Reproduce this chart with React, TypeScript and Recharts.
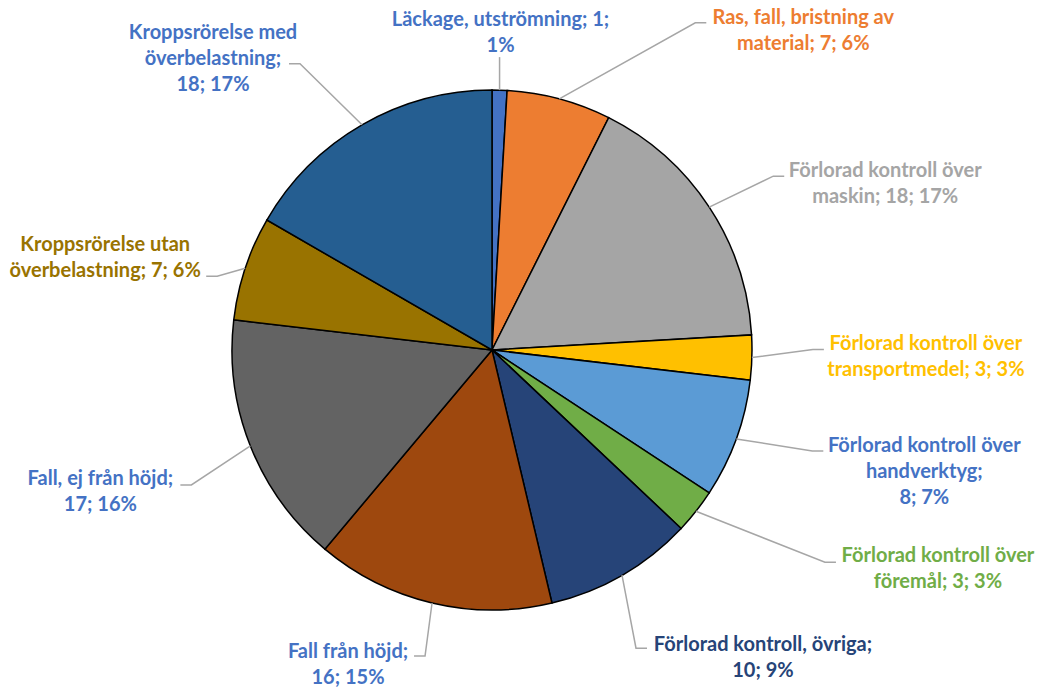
import React from "react";
import { PieChart, Pie, Cell } from "recharts";

const categories = [
  "Läckage, utströmning",
  "Ras, fall, bristning av material",
  "Förlorad kontroll över maskin",
  "Förlorad kontroll över transportmedel",
  "Förlorad kontroll över handverktyg",
  "Förlorad kontroll över föremål",
  "Förlorad kontroll, övriga",
  "Fall från höjd",
  "Fall, ej från höjd",
  "Kroppsrörelse utan överbelastning",
  "Kroppsrörelse med överbelastning",
];

const counts = [1, 7, 18, 3, 8, 3, 10, 16, 17, 7, 18];

const sliceColors = [
  "#4472C4",
  "#ED7D31",
  "#A5A5A5",
  "#FFC000",
  "#5B9BD5",
  "#70AD47",
  "#264478",
  "#9E480E",
  "#636363",
  "#997300",
  "#255E91",
];

const labelColors = [
  "#4472C4",
  "#ED7D31",
  "#A5A5A5",
  "#FFC000",
  "#4472C4",
  "#70AD47",
  "#264478",
  "#4472C4",
  "#4472C4",
  "#997300",
  "#4472C4",
];

// words per line for each data label
const labelWrap = [
  [3, 1],
  [4, 3],
  [3, 3],
  [3, 3],
  [3, 1, 2],
  [3, 3],
  [3, 2],
  [3, 2],
  [4, 2],
  [2, 3],
  [2, 1, 2],
];

// label placement relative to the slice's edge point: [textDx, textDy, elbowDx, elbowDy, side]
const labelLayout = [
  [1, -58, 0, -33, 0],
  [244, -69, 136, -76, 1],
  [176, -24, 64, -31, 1],
  [174, -2, 61, -8, 1],
  [188, 32, 76, 12, 1],
  [242, 57, 129, 51, 1],
  [141, 82, 14, 73, 1],
  [-84, 61, -7, 53, -1],
  [-150, 45, -59, 39, -1],
  [-140, -11, -28, 8, -1],
  [-149, -67, -62, -61, -1],
];

const data = categories.map((name, i) => ({ name, value: counts[i] }));

const RAD = Math.PI / 180;
const FONT = "Lato, 'Open Sans', sans-serif";
const LINE_H = 26;

function splitWords(text: string, wrap: number[]) {
  const words = text.split(" ");
  const lines: string[] = [];
  let k = 0;
  for (const n of wrap) {
    lines.push(words.slice(k, k + n).join(" "));
    k += n;
  }
  return lines;
}

function renderLabel(props: any) {
  const { cx, cy, midAngle, outerRadius, index, name, value, percent } = props;
  const ax = cx + outerRadius * Math.cos(-midAngle * RAD);
  const ay = cy + outerRadius * Math.sin(-midAngle * RAD);
  const [tdx, tdy, edx, edy, side] = labelLayout[index];
  const ex = ax + edx;
  const ey = ay + edy;
  const seg = side === 0 ? 0 : 11 * side;
  const text = `${name}; ${value}; ${Math.round(percent * 100)}%`;
  const lines = splitWords(text, labelWrap[index]);
  const tx = ax + tdx;
  const ty = ay + tdy;
  const firstY = ty - ((lines.length - 1) * LINE_H) / 2 + 7;
  return (
    <g key={`lbl-${index}`}>
      <polyline
        points={`${ax},${ay} ${ex},${ey} ${ex + seg},${ey}`}
        fill="none"
        stroke="#A6A6A6"
        strokeWidth={1.5}
      />
      <text
        x={tx}
        y={firstY}
        textAnchor="middle"
        fill={labelColors[index]}
        fontFamily={FONT}
        fontWeight={700}
        fontSize={20}
      >
        {lines.map((l, j) => (
          <tspan key={j} x={tx} dy={j === 0 ? 0 : LINE_H}>
            {l}
          </tspan>
        ))}
      </text>
    </g>
  );
}

export default function App() {
  return (
    <div style={{ position: "fixed", left: 0, top: 0, background: "#fff" }}>
      <PieChart width={1043} height={689} margin={{ top: 0, right: 0, bottom: 0, left: 0 }}>
        <Pie
          data={data}
          dataKey="value"
          nameKey="name"
          cx={492}
          cy={350}
          outerRadius={260}
          startAngle={90}
          endAngle={-270}
          stroke="#000"
          strokeWidth={1.5}
          label={renderLabel}
          labelLine={false}
          isAnimationActive={false}
        >
          {data.map((d, i) => (
            <Cell key={d.name} fill={sliceColors[i]} />
          ))}
        </Pie>
      </PieChart>
    </div>
  );
}
